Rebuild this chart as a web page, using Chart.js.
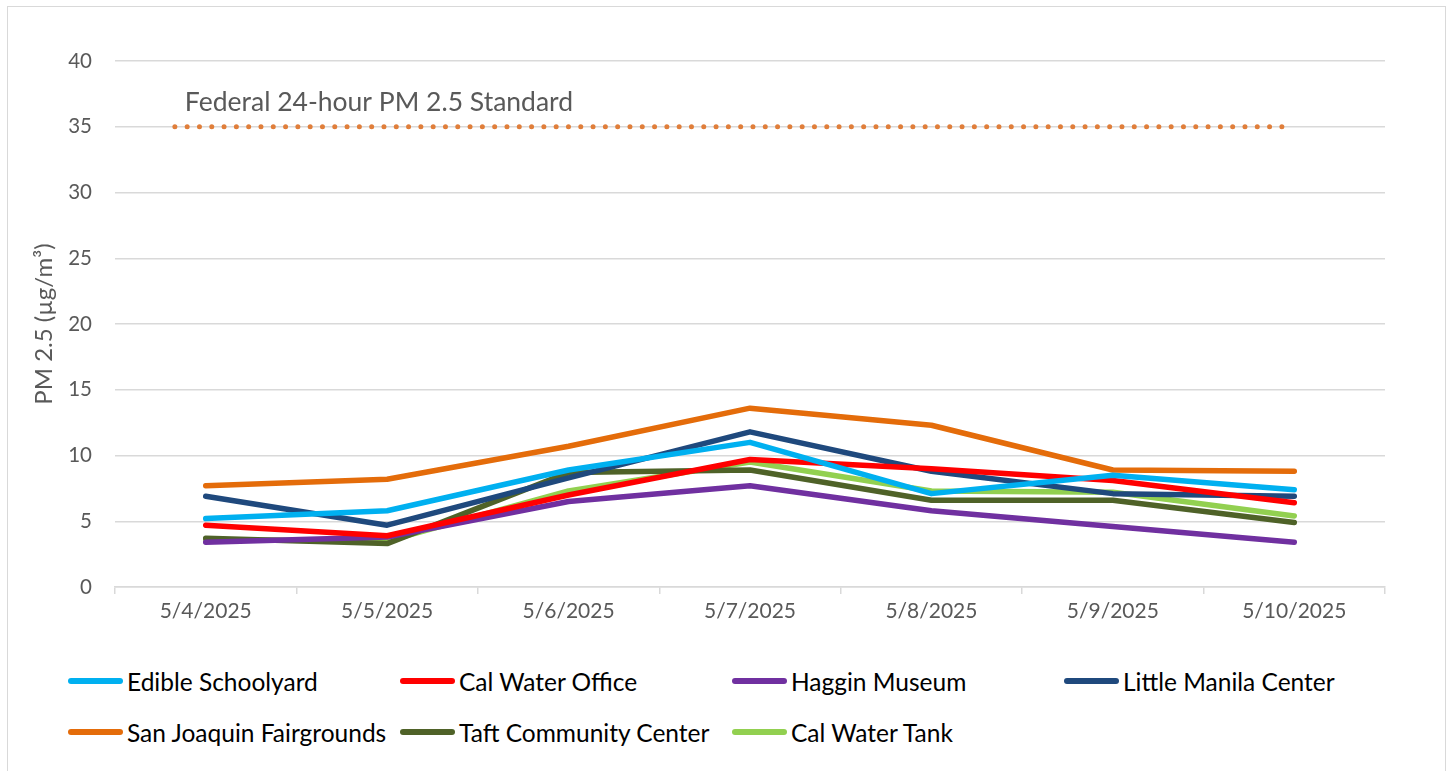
<!DOCTYPE html>
<html>
<head>
<meta charset="utf-8">
<script src="https://cdn.jsdelivr.net/npm/chart.js@4.4.1/dist/chart.umd.min.js"></script>
<style>
  body { margin: 0; background: #fff; font-family: Lato, "Open Sans", sans-serif; }
  #frame { position: absolute; left: 7px; top: 6px; width: 1439px; height: 780px; border: 1.5px solid #d9d9d9; box-sizing: border-box; }
  #wrap { position: absolute; left: 0; top: 0; width: 1455px; height: 650px; }
  #legend { position: absolute; left: 68px; top: 662px; display: grid; grid-template-columns: repeat(4, 332px); row-gap: 13px; }
  .item { display: flex; align-items: center; height: 38px; font-size: 24.5px; color: #000; white-space: nowrap; }
  .swatch { width: 55px; height: 6px; border-radius: 3px; margin-right: 4px; }
</style>
</head>
<body>
<div id="frame"></div>
<div id="wrap"><canvas id="pmChart"></canvas></div>
<div id="legend"></div>
<script>
const categories = ["5/4/2025", "5/5/2025", "5/6/2025", "5/7/2025", "5/8/2025", "5/9/2025", "5/10/2025"];
const seriesNames = ["Edible Schoolyard", "Cal Water Office", "Haggin Museum", "Little Manila Center",
  "San Joaquin Fairgrounds", "Taft Community Center", "Cal Water Tank"];

const edible = [5.2, 5.8, 8.9, 11.0, 7.1, 8.5, 7.4];
const calWaterOffice = [4.7, 3.9, 7.0, 9.7, 9.0, 8.1, 6.4];
const haggin = [3.4, 3.8, 6.5, 7.7, 5.8, 4.6, 3.4];
const littleManila = [6.9, 4.7, 8.3, 11.8, 8.8, 7.1, 6.9];
const sanJoaquin = [7.7, 8.2, 10.7, 13.6, 12.3, 8.9, 8.8];
const taft = [3.7, 3.3, 8.7, 8.9, 6.6, 6.6, 4.9];
const calWaterTank = [3.6, 3.5, 7.3, 9.5, 7.3, 7.2, 5.4];

// federal standard line, runs a bit past the first category
const standardValue = 35;
const standardStart = -0.17;
const standardEnd = 5.98;
const standardLabel = "Federal 24-hour PM 2.5 Standard";

const yTicks = [0, 5, 10, 15, 20, 25, 30, 35, 40];

const colors = ["#00B0F0", "#FF0000", "#7030A0", "#1F497D", "#E46C0A", "#4F6228", "#92D050"];
const values = [edible, calWaterOffice, haggin, littleManila, sanJoaquin, taft, calWaterTank];

const textGrey = "#595959";
const gridGrey = "#d9d9d9";

const datasets = values.map((v, i) => ({
  label: seriesNames[i],
  data: v,
  borderColor: colors[i],
  backgroundColor: colors[i],
  borderWidth: 5.5,
  borderCapStyle: "round",
  borderJoinStyle: "round",
  pointRadius: 0,
  tension: 0,
  xAxisID: "x"
}));

datasets.unshift({
  label: "standard",
  data: [{ x: standardStart, y: standardValue }, { x: standardEnd, y: standardValue }],
  borderColor: "#E07E3A",
  borderWidth: 5,
  borderDash: [0, 12.3],
  borderCapStyle: "round",
  pointRadius: 0,
  xAxisID: "x2"
});

const standardText = {
  id: "standardText",
  afterDatasetsDraw(chart) {
    const ctx = chart.ctx;
    const x = chart.scales.x2.getPixelForValue(standardStart) + 10;
    const y = chart.scales.y.getPixelForValue(standardValue) - 24;
    ctx.save();
    ctx.font = "26.5px Lato";
    ctx.fillStyle = textGrey;
    ctx.textBaseline = "middle";
    ctx.fillText(standardLabel, x, y);
    ctx.restore();
  }
};

const chart = new Chart(document.getElementById("pmChart"), {
  type: "line",
  data: { labels: categories, datasets: datasets },
  options: {
    responsive: true,
    maintainAspectRatio: false,
    animation: false,
    layout: { padding: { top: 61, right: 70, left: 30, bottom: 0 } },
    plugins: { legend: { display: false }, tooltip: { enabled: false } },
    scales: {
      x: {
        type: "category",
        offset: true,
        grid: { display: true, drawOnChartArea: false, drawTicks: true, tickLength: 7, color: gridGrey, lineWidth: 1.5, offset: true },
        border: { display: true, color: gridGrey, width: 1.5 },
        ticks: { color: textGrey, font: { family: "Lato", size: 21 }, padding: 5, maxRotation: 0 },
        afterFit(scale) { scale.height = 63; }
      },
      x2: {
        type: "linear",
        display: false,
        min: -0.5,
        max: 6.5
      },
      y: {
        min: 0,
        max: 40,
        afterBuildTicks(scale) { scale.ticks = yTicks.map(v => ({ value: v })); },
        grid: { color: gridGrey, lineWidth: 1.5, drawTicks: false },
        border: { display: false },
        ticks: { color: textGrey, font: { family: "Lato", size: 20.5 }, padding: 23 },
        title: { display: true, text: "PM 2.5 (µg/m³)", color: textGrey, font: { family: "Lato", size: 24 }, padding: 0 },
        afterFit(scale) { scale.width = 85; }
      }
    }
  },
  plugins: [standardText]
});

// legend as a 4-column grid like the original
const legendDiv = document.getElementById("legend");
seriesNames.forEach((name, i) => {
  const item = document.createElement("div");
  item.className = "item";
  item.innerHTML = `<span class="swatch" style="background:${colors[i]}"></span>${name}`;
  legendDiv.appendChild(item);
});
</script>
</body>
</html>
